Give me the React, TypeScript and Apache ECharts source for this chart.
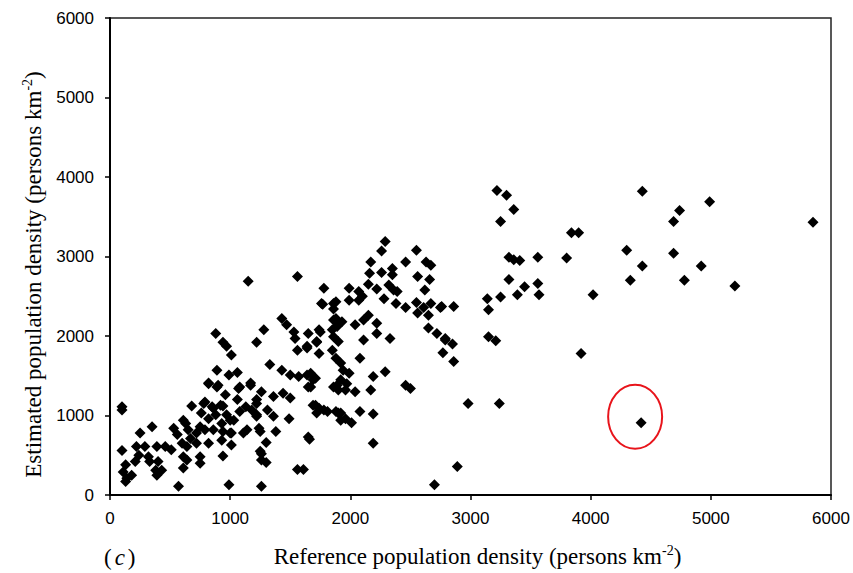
import React, { useEffect, useRef } from "react";
import * as echarts from "echarts";

// Reference population density (persons km^-2) for each sample unit
const referenceDensity: number[] = [
  3220, 3300, 3360, 3250, 4430, 4990, 4740, 4690, 5850, 3840, 3900, 4300, 4690, 4430, 4920, 4330, 4780, 5200,
  3800, 3560, 3320, 3360, 3410, 3320, 3450, 3390, 3560, 3570, 4020, 3140, 3250, 3150, 2860, 2760, 3150, 3210,
  2850, 2790, 2860, 2770, 3920, 2980, 3240, 4420, 2890, 2700,
  2290, 2260, 2550, 2170, 2460, 2630, 2670, 2160, 2260, 2350, 2350, 2560, 2660, 2150, 2220, 2320, 2360, 2390,
  2620, 1990, 2070, 2100, 2070, 1990, 2280, 2380, 2460, 2550, 2560, 2610, 2650, 2670, 2750, 1880, 1860, 1930,
  1890, 2040, 2110, 2150, 2220, 2220, 2330, 2650, 2720, 2790,
  2110, 2080, 2290, 2190, 2170, 2040, 2080, 2190, 2460, 2500, 1890, 1690, 1740, 1810, 1920, 1850, 1880, 1920,
  1940, 1990, 1670, 1710, 1670, 1650, 1740, 1640, 1720, 1740, 1850, 1860, 1900, 1780, 1760, 1860, 1860, 1560,
  1150,
  880, 940, 970, 1010, 1220, 1280, 1430, 1470, 1530, 1540, 1750, 1720, 1640, 1560, 1770, 1880, 1330, 1430,
  1500, 1570, 1640, 1690, 1650, 890, 990, 1060, 820, 890, 1170, 1070, 1260, 1360, 1440, 1500, 680, 790, 860,
  940, 970, 1030, 1080, 1220, 1310, 1360, 1220, 1490, 1780, 1720, 1880, 1650, 610, 750, 860, 1000, 1140, 1250,
  100, 100, 100, 130, 110, 140, 180, 130, 210, 240, 220, 290, 320, 390, 460, 510, 250, 350, 330, 380, 390, 430,
  400, 570, 530, 560, 630, 650, 600, 640, 670, 610, 640, 610, 720, 720, 750, 750, 780, 850, 920, 760, 820, 880,
  790, 930, 1000, 940, 1010, 820, 930, 1010, 940, 990, 820, 900, 1080, 1170, 960, 1060, 1130, 1180, 1220, 1240,
  1220, 1110, 1250, 1260, 1260,
  1300, 1260, 1300, 1380, 1660, 1560, 1610, 1710, 1900, 1920, 1960, 2010, 2190,
  1970, 1900, 1920, 1960, 1860,
];

// Estimated population density (persons km^-2) for the same units
const estimatedDensity: number[] = [
  3830, 3770, 3590, 3440, 3820, 3690, 3580, 3440, 3430, 3300, 3300, 3080, 3040, 2880, 2880, 2700, 2700, 2630,
  2980, 2990, 2990, 2960, 2950, 2710, 2620, 2520, 2660, 2520, 2520, 2470, 2490, 2330, 2370, 2370, 1990, 1940,
  1900, 1950, 1680, 1790, 1780, 1150, 1150, 910, 360, 130,
  3190, 3070, 3080, 2930, 2930, 2930, 2890, 2790, 2800, 2850, 2770, 2750, 2710, 2650, 2590, 2640, 2580, 2560,
  2580, 2600, 2560, 2500, 2450, 2450, 2470, 2410, 2360, 2420, 2290, 2360, 2260, 2410, 2360, 2430, 2200, 2180,
  2120, 2140, 2200, 2260, 2160, 2030, 1970, 2100, 2030, 1970,
  1950, 1720, 1550, 1490, 1320, 1300, 1050, 1020, 1380, 1340, 1380, 1130, 1090, 1050, 1030, 1820, 1720, 1660,
  1570, 1530, 1530, 1470, 1360, 2030, 2080, 1850, 1930, 1780, 2080, 1990, 1930, 2600, 2410, 2410, 2340, 2750,
  2690,
  2030, 1920, 1870, 1760, 1920, 2080, 2220, 2140, 2050, 1970, 2050, 1920, 1870, 1820, 2400, 2220, 1640, 1570,
  1510, 1490, 1510, 1450, 1360, 1570, 1510, 1540, 1410, 1360, 1410, 1340, 1300, 1240, 1280, 1220, 1120, 1170,
  1090, 1120, 1010, 940, 1050, 1150, 1070, 990, 1010, 960, 1070, 1030, 1050, 730, 940, 860, 820, 780, 820, 800,
  1110, 1070, 560, 380, 290, 210, 250, 170, 420, 500, 610, 610, 480, 610, 610, 570, 780, 860, 420, 310, 250, 310,
  420, 110, 840, 760, 900, 820, 650, 610, 710, 480, 440, 340, 780, 650, 480, 400, 1150, 1110, 1130, 1030, 960,
  1010, 820, 900, 940, 800, 780, 650, 690, 630, 490, 130, 1400, 1380, 1360, 1380, 1260, 1200, 1110, 1070, 990,
  840, 1200, 780, 550, 440, 110,
  410, 520, 660, 800, 700, 320, 320, 1130, 1030, 940, 960, 910, 650,
  1400, 1320, 1450, 1320, 1360,
];

// Highlighted sample, circled on the plot
const circledPoint: [number, number] = [4370, 985];

const xTicks = [0, 1000, 2000, 3000, 4000, 5000, 6000];
const yTicks = [0, 1000, 2000, 3000, 4000, 5000, 6000];

const serif = "'Liberation Serif', 'Times New Roman', serif";
const sans = "'Liberation Sans', Arial, sans-serif";

export default function App() {
  const ref = useRef<HTMLDivElement>(null);

  useEffect(() => {
    if (!ref.current) return;
    const chart = echarts.init(ref.current, null, { renderer: "svg" });
    const points = referenceDensity.map((x, i) => [x, estimatedDensity[i]]);

    const axisCommon = {
      type: "value" as const,
      interval: 1000,
      splitLine: { show: false },
      axisLine: { show: true, lineStyle: { color: "#000", width: 2 } },
      axisTick: { show: true, inside: false, length: 5, lineStyle: { color: "#000", width: 1.5 } },
    };

    const titleRich = {
      a: { fontFamily: serif, fontSize: 23, color: "#000" },
      s: { fontFamily: serif, fontSize: 14, color: "#000", verticalAlign: "top", padding: [0, 0, 12, 0] },
    };

    const tickLabel = {
      fontFamily: sans,
      fontSize: 17,
      color: "#000",
      formatter: (v: number) => String(v),
    };

    chart.setOption({
      animation: false,
      backgroundColor: "#ffffff",
      grid: {
        left: 110,
        right: 22,
        top: 18,
        bottom: 78,
        show: true,
        borderColor: "#222",
        borderWidth: 1.5,
        backgroundColor: "transparent",
      },
      xAxis: {
        ...axisCommon,
        min: xTicks[0],
        max: xTicks[xTicks.length - 1],
        name: "{a|Reference population density (persons km}{s|-2}{a|)}",
        nameLocation: "middle",
        nameGap: 48,
        nameTextStyle: { rich: titleRich, padding: [0, 0, 0, 14] },
        axisLabel: { ...tickLabel, margin: 15 },
      },
      yAxis: {
        ...axisCommon,
        min: yTicks[0],
        max: yTicks[yTicks.length - 1],
        name: "{a|Estimated population density (persons km}{s|-2}{a|)}",
        nameLocation: "middle",
        nameGap: 60,
        nameTextStyle: { rich: titleRich, padding: [0, 36, 0, 0] },
        axisLabel: { ...tickLabel, margin: 16 },
      },
      series: [
        {
          type: "scatter",
          data: points,
          symbol: "diamond",
          symbolSize: 11,
          itemStyle: { color: "#000", opacity: 1 },
        },
      ],
    });

    const [cx, cy] = chart.convertToPixel({ gridIndex: 0 }, circledPoint) as number[];
    chart.setOption({
      graphic: [
        {
          type: "ellipse",
          shape: { cx, cy, rx: 27, ry: 32 },
          style: { fill: "none", stroke: "#e8141b", lineWidth: 2 },
          z: 10,
        },
        {
          type: "text",
          left: 104,
          top: 546,
          style: {
            text: "({i|c})",
            font: `23px ${serif}`,
            fill: "#000",
            rich: {
              i: { fontFamily: serif, fontSize: 23, fontStyle: "italic", fill: "#000", padding: [0, 3, 0, 3] },
            },
          },
        },
      ],
    });

    return () => chart.dispose();
  }, []);

  return (
    <div
      ref={ref}
      style={{ position: "fixed", left: 0, top: 0, width: 853, height: 573, background: "#fff" }}
    />
  );
}
